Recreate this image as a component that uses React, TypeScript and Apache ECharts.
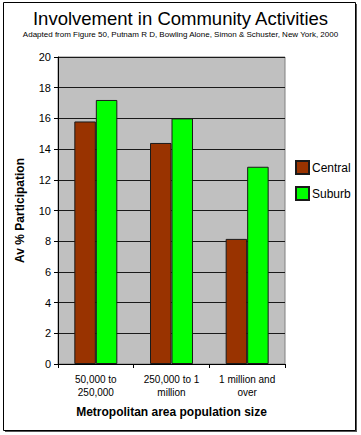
import React, { useEffect, useRef } from "react";
import * as echarts from "echarts";

const categories = ["50,000 to\n250,000", "250,000 to 1\nmillion", "1 million and\nover"];
const centralValues = [15.8, 14.4, 8.15];
const suburbValues = [17.2, 16.0, 12.85];
const seriesNames = ["Central", "Suburb"];

const FONT = "'Liberation Sans', Arial, sans-serif";

export default function App() {
  const ref = useRef<HTMLDivElement>(null);
  useEffect(() => {
    document.body.style.margin = "0";
    const chart = echarts.init(ref.current!, null, { renderer: "svg" });
    chart.setOption({
      animation: false,
      backgroundColor: "#ffffff",
      textStyle: { fontFamily: FONT },
      graphic: [
        {
          type: "rect",
          shape: { x: 5, y: 4, width: 352, height: 428 },
          style: { fill: "#555555" },
          z: -10,
        },
        {
          type: "rect",
          shape: { x: 3.5, y: 2.5, width: 352, height: 428 },
          style: { fill: "#ffffff", stroke: "#000000", lineWidth: 1 },
          z: -9,
        },
      ],
      title: [
        {
          text: "Involvement in Community Activities",
          left: "center",
          top: 4,
          textStyle: { fontFamily: FONT, fontSize: 18.5, fontWeight: "normal", color: "#000" },
        },
        {
          text: "Adapted from Figure 50, Putnam R D, Bowling Alone, Simon & Schuster, New York, 2000",
          left: "center",
          top: 25,
          textStyle: { fontFamily: FONT, fontSize: 8, fontWeight: "normal", color: "#000" },
        },
      ],
      legend: {
        orient: "vertical",
        left: 290,
        top: 155,
        itemWidth: 13,
        itemHeight: 13,
        itemGap: 11,
        icon: "rect",
        data: seriesNames,
        textStyle: { fontFamily: FONT, fontSize: 12, color: "#000", padding: [0, 0, 0, -2] },
      },
      grid: {
        left: 58,
        right: 76,
        top: 57,
        bottom: 71,
        show: true,
        backgroundColor: "#c0c0c0",
        borderColor: "#808080",
        borderWidth: 1,
        containLabel: false,
      },
      xAxis: {
        type: "category",
        data: categories,
        boundaryGap: true,
        name: "Metropolitan area population size",
        nameLocation: "middle",
        nameGap: 42,
        nameTextStyle: { fontFamily: FONT, fontSize: 12, fontWeight: "bold", color: "#000" },
        axisLine: { show: true, lineStyle: { color: "#000", width: 1 } },
        axisTick: { show: true, length: 4, lineStyle: { color: "#000" } },
        axisLabel: { fontFamily: FONT, fontSize: 10, color: "#000", lineHeight: 13, margin: 9 },
      },
      yAxis: {
        type: "value",
        min: 0,
        max: 20,
        interval: 2,
        name: "Av % Participation",
        nameLocation: "middle",
        nameGap: 32,
        nameTextStyle: { fontFamily: FONT, fontSize: 12, fontWeight: "bold", color: "#000" },
        axisLine: { show: true, lineStyle: { color: "#000", width: 1 } },
        axisTick: { show: true, length: 4, lineStyle: { color: "#000" } },
        axisLabel: { fontFamily: FONT, fontSize: 11, color: "#000", margin: 7 },
        splitLine: { show: true, lineStyle: { color: "#1a1a1a", width: 1 } },
      },
      series: [
        {
          name: seriesNames[0],
          type: "bar",
          data: centralValues,
          barWidth: 21.5,
          barGap: "0%",
          itemStyle: { color: "#993300", borderColor: "#1a1a1a", borderWidth: 1 },
        },
        {
          name: seriesNames[1],
          type: "bar",
          data: suburbValues,
          barWidth: 21.5,
          barGap: "0%",
          itemStyle: { color: "#00ff00", borderColor: "#1a1a1a", borderWidth: 1 },
        },
      ],
    });
    return () => chart.dispose();
  }, []);
  return (
    <div
      ref={ref}
      style={{ position: "fixed", left: 0, top: 0, width: 361, height: 435 }}
    />
  );
}
